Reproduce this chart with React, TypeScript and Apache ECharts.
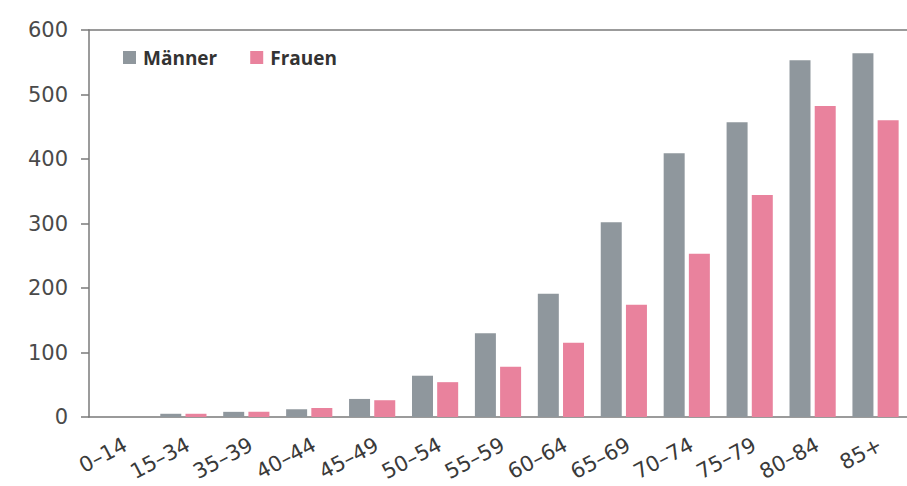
import React, { useEffect, useRef } from "react";
import * as echarts from "echarts";

const categories = ["0–14", "15–34", "35–39", "40–44", "45–49", "50–54", "55–59", "60–64", "65–69", "70–74", "75–79", "80–84", "85+"];
const maenner = [0, 5, 8, 12, 28, 64, 130, 191, 302, 409, 457, 553, 564];
const frauen = [0, 5, 8, 14, 26, 54, 78, 115, 174, 253, 344, 482, 460];
const yTicks = [0, 100, 200, 300, 400, 500, 600];

const GRAY = "#8f979d";
const PINK = "#e9829d";
const AXIS = "#7a7a7a";
const FONT = "'Open Sans', sans-serif";
const NUMFONT = "'DejaVu Sans', sans-serif";

export default function App() {
  const ref = useRef<HTMLDivElement>(null);
  useEffect(() => {
    if (!ref.current) return;
    const chart = echarts.init(ref.current, null, { renderer: "svg" });
    chart.setOption({
      animation: false,
      backgroundColor: "#ffffff",
      textStyle: { fontFamily: FONT },
      legend: {
        left: 118,
        top: 43,
        icon: "rect",
        itemWidth: 13,
        itemHeight: 13,
        itemGap: 33,
        textStyle: { fontFamily: FONT, fontSize: 19, fontWeight: "bold", color: "#333", padding: [0, 0, 0, 2] },
        data: ["Männer", "Frauen"],
      },
      grid: { left: 89, top: 30, width: 820, bottom: 69, containLabel: false },
      xAxis: [
        {
          type: "category",
          data: categories,
          axisLine: { show: true, lineStyle: { color: AXIS, width: 1.5 } },
          axisTick: { show: false },
          axisLabel: {
            rotate: 28,
            margin: 17,
            align: "right",
            verticalAlign: "top",
            fontSize: 21,
            color: "#3a3a3a",
            fontFamily: NUMFONT,
            interval: 0,
          },
        },
        {
          type: "category",
          position: "top",
          data: categories,
          axisLine: { show: true, lineStyle: { color: AXIS, width: 1.5 } },
          axisTick: { show: false },
          axisLabel: { show: false },
        },
      ],
      yAxis: {
        type: "value",
        min: yTicks[0],
        max: yTicks[yTicks.length - 1],
        interval: 100,
        axisLine: { show: true, lineStyle: { color: AXIS, width: 1.5 } },
        axisTick: { show: true, length: 8, lineStyle: { color: AXIS, width: 1.5 } },
        splitLine: { show: false },
        axisLabel: { margin: 21, fontSize: 21, color: "#4a4a4a", fontFamily: NUMFONT },
      },
      series: [
        {
          name: "Männer",
          type: "bar",
          data: maenner,
          barWidth: 21,
          barGap: "20%",
          itemStyle: { color: GRAY },
        },
        {
          name: "Frauen",
          type: "bar",
          data: frauen,
          barWidth: 21,
          barGap: "20%",
          itemStyle: { color: PINK },
        },
      ],
    });
    return () => chart.dispose();
  }, []);
  return <div ref={ref} style={{ width: 907, height: 486, position: "absolute", left: 0, top: 0 }} />;
}
